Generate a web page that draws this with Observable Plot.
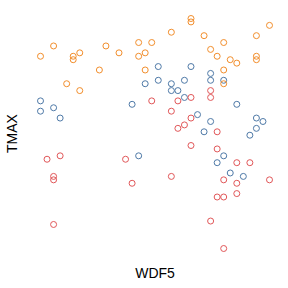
<!DOCTYPE html>
<html>
<head>
<meta charset="utf-8">
<script src="https://cdn.jsdelivr.net/npm/d3@7"></script>
<script src="https://cdn.jsdelivr.net/npm/@observablehq/plot@0.6"></script>
<style>
  html, body { margin: 0; padding: 0; background: #fff; }
</style>
</head>
<body>
<div id="chart"></div>
<script>
// Series A (blue)
const wdf5A = [170, 10, 10, 30, 40, 150, 190, 240, 190, 210, 210, 220, 230, 270, 270, 290, 230, 310, 250, 270, 260, 340, 350, 340, 330, 160, 290, 280, 300, 320];
const tmaxA = [79, 74, 71, 72, 69, 73, 84, 84, 80, 79, 77, 77, 80, 82, 80, 80, 75, 73, 70, 68, 65, 69, 68, 66, 64, 58, 58, 56, 53, 52];
// Series B (orange)
const wdf5B = [30, 10, 60, 60, 70, 110, 130, 160, 160, 170, 100, 170, 50, 70, 240, 240, 360, 210, 260, 340, 180, 290, 270, 280, 300, 310, 340, 340, 290, 290];
const tmaxB = [90, 87, 87, 86, 88, 90, 88, 91, 87, 88, 83, 83, 79, 77, 98, 97, 96, 94, 93, 93, 91, 91, 89, 87, 86, 85, 87, 86, 83, 79];
// Series C (red)
const wdf5C = [270, 270, 240, 220, 180, 210, 240, 230, 220, 280, 240, 20, 40, 30, 30, 30, 140, 150, 280, 310, 330, 210, 290, 310, 360, 310, 280, 290, 270, 290];
const tmaxC = [77, 75, 75, 74, 74, 71, 69, 67, 66, 65, 61, 57, 58, 52, 51, 38, 57, 50, 60, 56, 56, 52, 51, 50, 51, 47, 46, 46, 39, 31];

const groups = ["A", "B", "C"];
const colors = ["#4e79a7", "#f28e2c", "#e15759"];

const data = [
  ...wdf5A.map((x, i) => ({WDF5: x, TMAX: tmaxA[i], group: "A"})),
  ...wdf5B.map((x, i) => ({WDF5: x, TMAX: tmaxB[i], group: "B"})),
  ...wdf5C.map((x, i) => ({WDF5: x, TMAX: tmaxC[i], group: "C"}))
];

const chart = Plot.plot({
  width: 288,
  height: 288,
  marginLeft: 40,
  marginRight: 19,
  marginTop: 18,
  marginBottom: 40,
  style: {fontSize: "14px", fontFamily: "'Liberation Sans', Arial, sans-serif", background: "#fff", color: "#000"},
  x: {domain: [10, 360]},
  y: {domain: [31, 98]},
  color: {domain: groups, range: colors},
  marks: [
    Plot.axisX({ticks: [], tickSize: 0, label: "WDF5", labelAnchor: "center", labelArrow: "none", labelOffset: 29}),
    Plot.axisY({ticks: [], tickSize: 0, label: "TMAX", labelAnchor: "center", labelArrow: "none", labelOffset: 33}),
    Plot.dot(data, {x: "WDF5", y: "TMAX", stroke: "group", r: 3, strokeWidth: 1})
  ]
});
document.getElementById("chart").appendChild(chart);
</script>
</body>
</html>
